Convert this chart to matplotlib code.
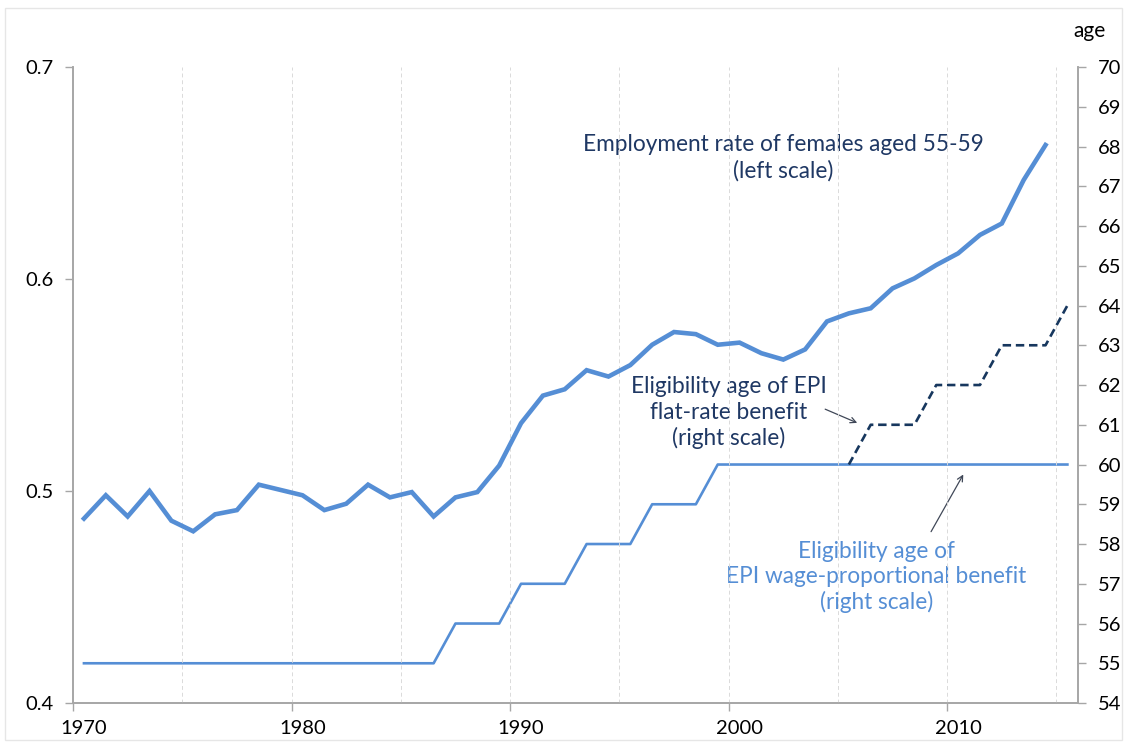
import matplotlib.pyplot as plt
from matplotlib.patches import Rectangle
import numpy as np

# ── data ──────────────────────────────────────────────────────────────────────
years = list(range(1970, 2016))

employment_years = list(range(1970, 2015))
employment_rate = [0.487, 0.498, 0.488, 0.500, 0.486, 0.481, 0.489, 0.491, 0.503, 0.5005,
                   0.498, 0.491, 0.494, 0.503, 0.497, 0.4995, 0.488, 0.497, 0.4995, 0.512,
                   0.532, 0.545, 0.548, 0.557, 0.554, 0.5594, 0.569, 0.575, 0.574, 0.569,
                   0.570, 0.565, 0.562, 0.5668, 0.580, 0.5838, 0.5862, 0.5956, 0.6003, 0.6066,
                   0.6121, 0.6208, 0.6262, 0.6467, 0.6632]

wage_prop_age = [55] * 17 + [56, 56, 56, 57, 57, 57, 58, 58, 58, 59, 59, 59] + [60] * 17

flat_years = list(range(2005, 2016))
flat_rate_age = [60, 61, 61, 61, 62, 62, 62, 63, 63, 63, 64]

xtick_labels = ["1970", "1980", "1990", "2000", "2010"]

BLUE = "#558ED5"
NAVY = "#1F3864"
DARK = "#17375E"
FONT = "Lato"

plt.rcParams["font.family"] = [FONT, "DejaVu Sans"]


def xpos(yrs):
    # Excel-style category axis: each year sits in the middle of its slot
    return np.array(yrs) - 1970 + 0.5


fig = plt.figure(figsize=(11.27, 7.43), dpi=100)
fig.patches.append(Rectangle((0.004, 0.004), 0.992, 0.985, transform=fig.transFigure,
                             fill=False, edgecolor="#E6E6E6", linewidth=1.0))
ax = fig.add_axes([0.0648, 0.0538, 0.892, 0.856])
ax2 = ax.twinx()

ax.plot(xpos(employment_years), employment_rate, color=BLUE, lw=3.3,
        solid_joinstyle="miter", zorder=3)
ax2.plot(xpos(years), wage_prop_age, color=BLUE, lw=1.9, zorder=3)
ax2.plot(xpos(flat_years), flat_rate_age, color=DARK, lw=1.9,
         dashes=(3.2, 1.8), zorder=4)

# ── axes styling ──────────────────────────────────────────────────────────────
ax.set_xlim(0, 46)
ax.set_ylim(0.4, 0.7)
ax2.set_ylim(54, 70)
ax.set_yticks([0.4, 0.5, 0.6, 0.7])
ax.set_yticklabels(["0.4", "0.5", "0.6", "0.7"])
ax2.set_yticks(range(54, 71))

ax.set_xticks([0, 10, 20, 30, 40])
ax.set_xticklabels([])
ax.set_xticks([0.5, 10.5, 20.5, 30.5, 40.5], minor=True)
ax.set_xticklabels(xtick_labels, minor=True)
ax.tick_params(axis="x", which="minor", length=0, pad=12, labelsize=14.5)
ax.tick_params(axis="x", which="major", length=6, color="#A6A6A6", width=1)
ax.tick_params(axis="y", length=6, color="#A6A6A6", width=1, labelsize=14.5, pad=8)
ax2.tick_params(axis="y", length=6, color="#A6A6A6", width=1, labelsize=14.5, pad=8)

for g in range(5, 46, 5):
    ax.axvline(g, color="#DADADA", lw=0.7, ls=(0, (4, 3)), zorder=0)

for a in (ax, ax2):
    a.spines["top"].set_visible(False)
    for s in ("left", "right", "bottom"):
        a.spines[s].set_color("#A6A6A6")
        a.spines[s].set_linewidth(1.2)
ax.set_zorder(ax2.get_zorder() + 1)
ax.patch.set_visible(False)

# ── annotations ───────────────────────────────────────────────────────────────
ax2.text(32.5, 67.72, "Employment rate of females aged 55-59\n(left scale)",
         ha="center", va="center", color=NAVY, fontsize=16.3, linespacing=1.25)
ax2.text(30.0, 61.30, "Eligibility age of EPI\nflat-rate benefit\n(right scale)",
         ha="center", va="center", color=NAVY, fontsize=16.3, linespacing=1.25)
ax2.text(36.75, 57.17, "Eligibility age of\nEPI wage-proportional benefit\n(right scale)",
         ha="center", va="center", color=BLUE, fontsize=16.3, linespacing=1.25)

ax2.annotate("", xy=(36.0, 61.02), xytext=(34.3, 61.42),
             arrowprops=dict(arrowstyle="->", color="#404858", lw=0.9))
ax2.annotate("", xy=(40.8, 59.81), xytext=(39.2, 58.25),
             arrowprops=dict(arrowstyle="->", color="#404858", lw=0.9))

fig.text(0.967, 0.958, "age", ha="center", va="center", fontsize=15)

fig.savefig("out.png", dpi=100)
